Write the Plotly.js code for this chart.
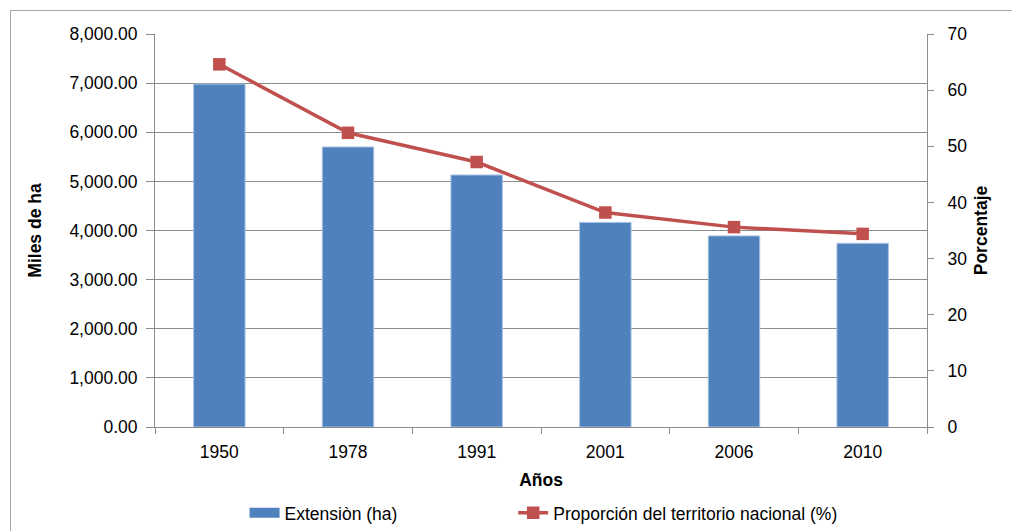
<!DOCTYPE html>
<html>
<head>
<meta charset="utf-8">
<script src="https://cdn.plot.ly/plotly-3.0.1.min.js"></script>
<style>
  html, body { margin: 0; padding: 0; background: #fff; }
  #frame { position: absolute; left: 10px; top: 10px; width: 1100px; height: 600px; border: 1px solid #a6a6a6; pointer-events: none; }
  #chart { width: 1012px; height: 531px; }
</style>
</head>
<body>
<div id="chart"></div>
<div id="frame"></div>
<script>
const years = ['1950', '1978', '1991', '2001', '2006', '2010'];
const extension = [6980, 5700, 5130, 4165, 3890, 3740];
const proportion = [64.6, 52.4, 47.2, 38.2, 35.6, 34.4];
const leftTicks = [0, 1000, 2000, 3000, 4000, 5000, 6000, 7000, 8000];
const rightTicks = [0, 10, 20, 30, 40, 50, 60, 70];
const seriesNames = ['Extensiòn (ha)', 'Proporción del territorio nacional (%)'];

const font = '"Liberation Sans", Arial, sans-serif';
const fs = 17.5;
const gridCol = '#8c8c8c';
const barCol = '#4F81BD';
const lineCol = '#C0504D';

const traces = [
  {
    type: 'bar', x: years, y: extension, name: seriesNames[0],
    marker: { color: barCol, line: { color: '#a9c3e6', width: 1 } },
    yaxis: 'y', showlegend: false
  },
  {
    // legend entry for the bar series (wide swatch like the original)
    type: 'scatter', mode: 'lines', x: [null], y: [null], name: seriesNames[0],
    line: { color: barCol, width: 10 }, yaxis: 'y', showlegend: true, legend: 'legend'
  },
  {
    type: 'scatter', mode: 'lines+markers', x: years, y: proportion,
    name: seriesNames[1],
    line: { color: lineCol, width: 3.5 },
    marker: { symbol: 'square', size: 12.5, color: lineCol },
    yaxis: 'y2', legend: 'legend2'
  }
];

const legendBase = {
  orientation: 'h', xref: 'paper', xanchor: 'left',
  yref: 'container', y: 0.034, yanchor: 'middle',
  font: { size: fs }, itemwidth: 30, bgcolor: 'rgba(0,0,0,0)'
};

const layout = {
  width: 1012, height: 531,
  margin: { l: 155, r: 85, t: 34, b: 104, autoexpand: false },
  paper_bgcolor: '#fff', plot_bgcolor: '#fff',
  font: { family: font, size: fs, color: '#000' },
  bargap: 0.6,
  showlegend: true,
  legend: Object.assign({}, legendBase, { x: 0.116 }),
  legend2: Object.assign({}, legendBase, { x: 0.464 }),
  xaxis: {
    type: 'category',
    showline: true, linecolor: gridCol, linewidth: 1,
    ticks: 'outside', ticklen: 6, tickcolor: gridCol, tickson: 'boundaries',
    tickfont: { size: fs }, ticklabelstandoff: 9,
    title: { text: '<b>Años</b>', font: { size: fs }, standoff: 12 },
    showgrid: false, zeroline: false
  },
  yaxis: {
    range: [0, 8000], tickvals: leftTicks,
    tickformat: ',.2f',
    showline: true, linecolor: gridCol, linewidth: 1,
    ticks: 'outside', ticklen: 8, tickcolor: gridCol,
    showgrid: true, gridcolor: gridCol, gridwidth: 1,
    zeroline: false,
    tickfont: { size: fs }, ticklabelstandoff: 5,
    title: { text: '<b>Miles de ha</b>', font: { size: fs }, standoff: 23 }
  },
  yaxis2: {
    range: [0, 70], tickvals: rightTicks,
    overlaying: 'y', side: 'right',
    showline: true, linecolor: gridCol, linewidth: 1,
    ticks: 'outside', ticklen: 6, tickcolor: gridCol,
    showgrid: false, zeroline: false,
    tickfont: { size: fs }, ticklabelstandoff: 10,
    title: { text: '<b>Porcentaje</b>', font: { size: fs }, standoff: 8 }
  }
};

Plotly.newPlot('chart', traces, layout, { displayModeBar: false, staticPlot: true });
</script>
</body>
</html>
